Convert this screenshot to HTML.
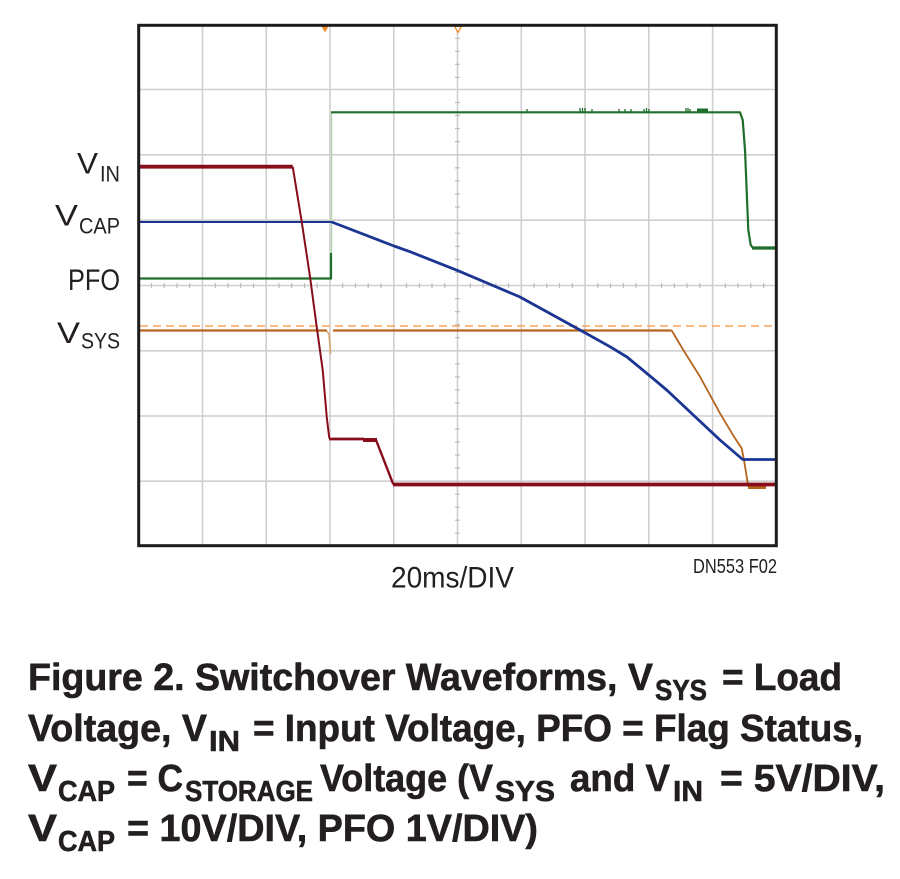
<!DOCTYPE html>
<html>
<head>
<meta charset="utf-8">
<style>
  html,body{margin:0;padding:0;background:#fff;}
  svg{display:block;}
  .lbl{font-family:"Liberation Sans",sans-serif;fill:#231f20;}
  .cap{font-family:"Liberation Sans",sans-serif;font-weight:bold;fill:#231f20;stroke:#231f20;stroke-width:0.6;}
</style>
</head>
<body>
<svg width="900" height="879" viewBox="0 0 900 879" xmlns="http://www.w3.org/2000/svg">
  <rect x="0" y="0" width="900" height="879" fill="#fff"/>

  <!-- grid -->
  <g stroke="#cfcfcf" stroke-width="1.6" fill="none">
    <line x1="202.5" y1="25" x2="202.5" y2="546"/>
    <line x1="266.2" y1="25" x2="266.2" y2="546"/>
    <line x1="330" y1="25" x2="330" y2="546"/>
    <line x1="393.8" y1="25" x2="393.8" y2="546"/>
    <line x1="457.5" y1="25" x2="457.5" y2="546"/>
    <line x1="521.3" y1="25" x2="521.3" y2="546"/>
    <line x1="585" y1="25" x2="585" y2="546"/>
    <line x1="648.8" y1="25" x2="648.8" y2="546"/>
    <line x1="712.6" y1="25" x2="712.6" y2="546"/>
    <line x1="139" y1="89.5" x2="776" y2="89.5"/>
    <line x1="139" y1="154.8" x2="776" y2="154.8"/>
    <line x1="139" y1="220.2" x2="776" y2="220.2"/>
    <line x1="139" y1="285.5" x2="776" y2="285.5"/>
    <line x1="139" y1="350.8" x2="776" y2="350.8"/>
    <line x1="139" y1="416" x2="776" y2="416"/>
    <line x1="139" y1="481.2" x2="776" y2="481.2"/>
  </g>
  <!-- minor ticks -->
  <g stroke="#bdbdbd" stroke-width="1.2">
    <path d="M151.5 283V288M164.2 283V288M177 283V288M189.7 283V288M215.3 283V288M228 283V288M240.7 283V288M253.5 283V288M279 283V288M291.7 283V288M304.5 283V288M317.2 283V288M342.7 283V288M355.5 283V288M368.2 283V288M381 283V288M406.5 283V288M419.3 283V288M432 283V288M444.8 283V288M470.3 283V288M483 283V288M495.8 283V288M508.5 283V288M534 283V288M546.8 283V288M559.5 283V288M572.3 283V288M597.8 283V288M610.5 283V288M623.3 283V288M636 283V288M661.6 283V288M674.3 283V288M687 283V288M699.8 283V288M725.3 283V288M738 283V288M750.8 283V288M763.6 283V288"/>
    <path d="M455 38.3H460M455 51.3H460M455 64.3H460M455 77.3H460M455 102.5H460M455 115.5H460M455 128.5H460M455 141.6H460M455 167.9H460M455 180.9H460M455 194H460M455 207H460M455 233.2H460M455 246.3H460M455 259.4H460M455 272.4H460M455 298.6H460M455 311.6H460M455 324.6H460M455 337.7H460M455 363.8H460M455 376.9H460M455 389.9H460M455 403H460M455 429H460M455 442H460M455 455H460M455 468H460M455 494.2H460M455 507.2H460M455 520.2H460M455 533.2H460"/>
  </g>

  <!-- dashed orange reference -->
  <line x1="140" y1="326" x2="776" y2="326" stroke="#f8a35c" stroke-width="1.6" stroke-dasharray="8 5"/>

  <!-- VSYS orange -->
  <g fill="none" stroke="#b5641c" stroke-linejoin="round">
    <polyline points="139,330.5 327,330.5" stroke-width="2.2"/>
    <polyline points="326.5,331 329,334 330.7,354" stroke="#d9a06a" stroke-width="1.5"/>
    <polyline points="333,330.5 671.7,330.5" stroke-width="2.2"/>
    <polyline points="671.7,330.5 683.3,350 700,376.7 720,413.3 735,438.3 741.7,448.3 744,460 748.3,486.7" stroke-width="1.8"/>
    <polyline points="748,487.5 766,487.5" stroke-width="3"/>
  </g>

  <!-- PFO green -->
  <g fill="none" stroke="#1f6e2b" stroke-linejoin="round">
    <polyline points="139,278.5 331,278.5 331,253" stroke-width="2.2"/>
    <line x1="331.5" y1="253" x2="331.5" y2="112" stroke="#b3d3b3" stroke-width="1.5"/>
    <polyline points="331,112.3 740,112.3 742.7,120 745,150 748.3,230 750.7,245 753,248 776,248" stroke-width="2.2"/>
    <line x1="752" y1="248" x2="776" y2="248" stroke-width="3.2"/>
    <path d="M527 109V112M580 108V113M582.5 108V113M585 108V113M592 109V113M619 109V113M625 109V113M631 109V113M644 109V113M646.5 108V113M649 109V113M686 108V113M688 108V113M690 109V113" stroke-width="1.3"/>
    <rect x="697" y="108.5" width="11" height="4" fill="#1f6e2b" stroke="none"/>
  </g>

  <!-- VCAP blue -->
  <g fill="none" stroke="#1b3592" stroke-linejoin="round">
    <polyline points="139,222 331.7,222" stroke-width="2"/>
    <polyline points="331.7,222 394,246 410,251.7 458,270.7 500,288.5 520,297 580,330 610,346.7 627,357 650,376 666.7,390 693.3,415 720,440 743.3,460" stroke-width="2.8"/>
    <polyline points="743,459.5 776,459.5" stroke-width="2.8"/>
  </g>

  <!-- VIN dark red -->
  <g fill="none" stroke="#870d1c" stroke-linejoin="round">
    <line x1="139" y1="166.7" x2="292.7" y2="166.7" stroke-width="3.8"/>
    <polyline points="292.7,166.7 301.7,221.7 310,276.7 316.7,326.7 322.7,370 326.7,416.7 329.3,438.3" stroke-width="2"/>
    <line x1="329" y1="439" x2="364" y2="439" stroke-width="2.8"/>
    <line x1="363" y1="440" x2="377" y2="440" stroke-width="4"/>
    <polyline points="376,440 393.3,484.3" stroke-width="2.4"/>
    <line x1="393" y1="484.5" x2="776" y2="484.5" stroke-width="3.8"/>
  </g>

  <!-- trigger markers -->
  <polygon points="321,25.5 329,25.5 325,32.5" fill="#f08a2a"/>
  <polygon points="454.5,26.3 461.5,26.3 458,32.5" fill="#fff" stroke="#f08a2a" stroke-width="1.3"/>

  <!-- frame -->
  <rect x="138.7" y="25.3" width="637.6" height="520.4" fill="none" stroke="#1c1c1c" stroke-width="3"/>

  <!-- trace labels -->
  <text class="lbl" x="77" y="173.5" font-size="30" textLength="21" lengthAdjust="spacingAndGlyphs">V</text>
  <text class="lbl" x="100" y="181.5" font-size="22.5" textLength="20" lengthAdjust="spacingAndGlyphs">IN</text>
  <text class="lbl" x="55" y="225.5" font-size="30" textLength="23" lengthAdjust="spacingAndGlyphs">V</text>
  <text class="lbl" x="79" y="233.5" font-size="22.5" textLength="41" lengthAdjust="spacingAndGlyphs">CAP</text>
  <text class="lbl" x="68" y="290" font-size="30" textLength="52" lengthAdjust="spacingAndGlyphs">PFO</text>
  <text class="lbl" x="57" y="343" font-size="30" textLength="23" lengthAdjust="spacingAndGlyphs">V</text>
  <text class="lbl" x="81" y="348.5" font-size="22.5" textLength="39" lengthAdjust="spacingAndGlyphs">SYS</text>

  <!-- axis labels -->
  <text class="lbl" x="391" y="587.5" font-size="30" textLength="123" lengthAdjust="spacingAndGlyphs">20ms/DIV</text>
  <text class="lbl" x="693" y="573" font-size="20" textLength="84" lengthAdjust="spacingAndGlyphs">DN553 F02</text>

  <!-- caption -->
  <g class="cap">
    <text x="28" y="690" font-size="38" textLength="625" lengthAdjust="spacingAndGlyphs">Figure 2. Switchover Waveforms, V</text>
    <text x="655" y="700" font-size="29" textLength="52" lengthAdjust="spacingAndGlyphs">SYS</text>
    <text x="722" y="690" font-size="38" textLength="120" lengthAdjust="spacingAndGlyphs">= Load</text>

    <text x="28" y="741" font-size="38" textLength="179" lengthAdjust="spacingAndGlyphs">Voltage, V</text>
    <text x="209" y="751" font-size="29" textLength="31" lengthAdjust="spacingAndGlyphs">IN</text>
    <text x="253" y="741" font-size="38" textLength="610" lengthAdjust="spacingAndGlyphs">= Input Voltage, PFO = Flag Status,</text>

    <text x="28" y="791" font-size="38" textLength="29" lengthAdjust="spacingAndGlyphs">V</text>
    <text x="58" y="801" font-size="29" textLength="57" lengthAdjust="spacingAndGlyphs">CAP</text>
    <text x="127" y="791" font-size="38" textLength="56" lengthAdjust="spacingAndGlyphs">= C</text>
    <text x="185" y="801" font-size="29" textLength="128" lengthAdjust="spacingAndGlyphs">STORAGE</text>
    <text x="320" y="791" font-size="38" textLength="173" lengthAdjust="spacingAndGlyphs">Voltage (V</text>
    <text x="495" y="801" font-size="29" textLength="60" lengthAdjust="spacingAndGlyphs">SYS</text>
    <text x="570" y="791" font-size="38" textLength="100" lengthAdjust="spacingAndGlyphs">and V</text>
    <text x="673" y="801" font-size="29" textLength="30" lengthAdjust="spacingAndGlyphs">IN</text>
    <text x="720" y="791" font-size="38" textLength="165" lengthAdjust="spacingAndGlyphs">= 5V/DIV,</text>

    <text x="28" y="841" font-size="38" textLength="29" lengthAdjust="spacingAndGlyphs">V</text>
    <text x="58" y="851" font-size="29" textLength="57" lengthAdjust="spacingAndGlyphs">CAP</text>
    <text x="127" y="841" font-size="38" textLength="411" lengthAdjust="spacingAndGlyphs">= 10V/DIV, PFO 1V/DIV)</text>
  </g>
</svg>
</body>
</html>
